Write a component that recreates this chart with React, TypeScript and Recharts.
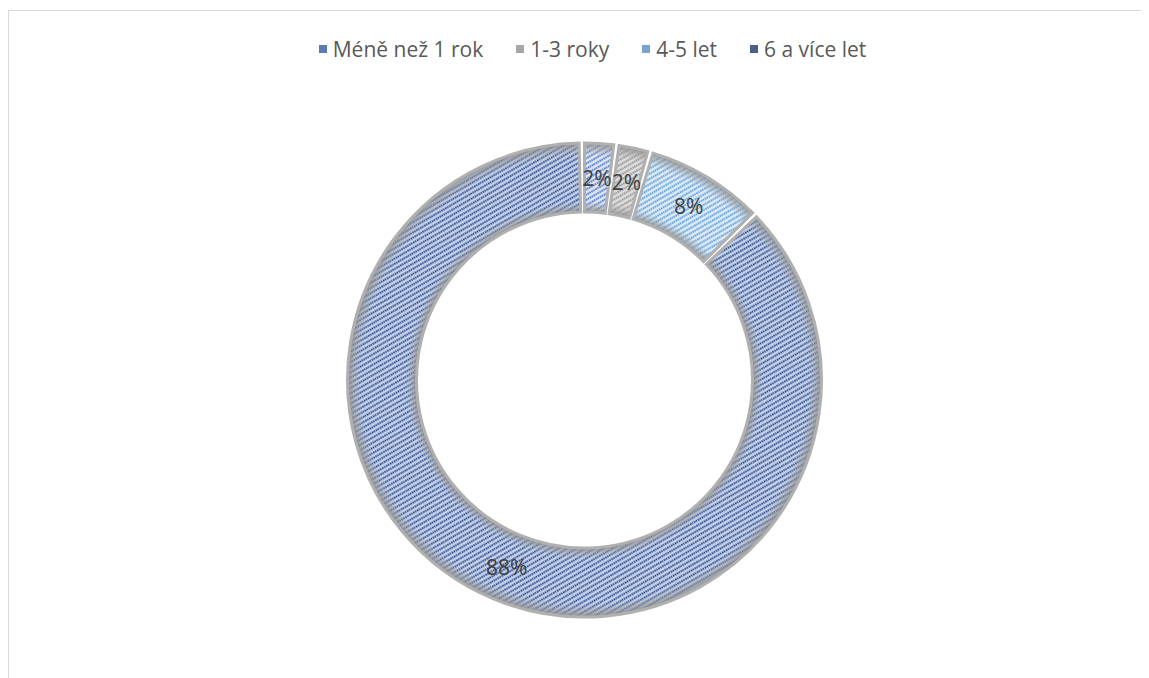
import { Cell, Pie, PieChart } from "recharts";

// share of respondents by length of practice
const CATEGORIES = ["Méně než 1 rok", "1-3 roky", "4-5 let", "6 a více let"];
const SHARES = [2, 2, 8, 88];

const LEGEND_COLORS = ["#5b7bb3", "#a6a6a6", "#7ba3cf", "#4a5e88"];
const PATTERN_BG = ["#e0e7f5", "#dedede", "#deecf9", "#c4d2ed"];
const PATTERN_LINE = ["#3a67bf", "#8a8a8a", "#4a91d4", "#1c3a7a"];

const data = CATEGORIES.map((name, i) => ({ name, value: SHARES[i] }));

const RADIAN = Math.PI / 180;
const FONT = "'Open Sans', Lato, sans-serif";

const CX = 575.5;
const CY = 369;
const INNER = 168;
const OUTER = 237;
const PAD = 1.3;

function renderLabel(props: any) {
  const { cx, cy, midAngle, innerRadius, outerRadius, value } = props;
  const r = (innerRadius + outerRadius) / 2;
  const x = cx + r * Math.cos(-midAngle * RADIAN);
  const y = cy + r * Math.sin(-midAngle * RADIAN);
  return (
    <text
      x={x}
      y={y}
      textAnchor="middle"
      dominantBaseline="central"
      fill="#404040"
      fontSize={21}
      fontFamily={FONT}
    >
      {`${value}%`}
    </text>
  );
}

function ChartLegend() {
  return (
    <div
      style={{
        position: "absolute",
        top: 23,
        left: 0,
        width: "100%",
        display: "flex",
        justifyContent: "center",
        gap: 33,
        fontFamily: FONT,
        fontSize: 21,
        lineHeight: "30px",
        color: "#595959",
        paddingLeft: 27,
        boxSizing: "border-box",
      }}
    >
      {CATEGORIES.map((name, i) => (
        <span key={name} style={{ display: "flex", alignItems: "center" }}>
          <span
            style={{
              width: 8,
              height: 8,
              background: LEGEND_COLORS[i],
              marginRight: 6,
              display: "inline-block",
            }}
          />
          {name}
        </span>
      ))}
    </div>
  );
}

export default function App() {
  const ringProps = {
    data,
    dataKey: "value",
    nameKey: "name",
    cx: CX,
    cy: CY,
    innerRadius: INNER,
    outerRadius: OUTER,
    startAngle: 90,
    endAngle: -270,
    paddingAngle: PAD,
    isAnimationActive: false,
  };
  const innerStop = INNER / OUTER;

  return (
    <div
      style={{
        position: "relative",
        marginTop: 2,
        width: 1140,
        height: 667,
        borderTop: "1px solid #d9d9d9",
        borderLeft: "1px solid #d9d9d9",
        background: "#fff",
        overflow: "hidden",
      }}
    >
      <ChartLegend />
      <PieChart width={1140} height={667} margin={{ top: 0, right: 0, bottom: 0, left: 0 }}>
        <defs>
          {CATEGORIES.map((name, i) => (
            <pattern
              key={name}
              id={`fill${i}`}
              width={4.5}
              height={4.5}
              patternUnits="userSpaceOnUse"
              patternTransform="rotate(-30)"
            >
              <rect width={4.5} height={4.5} fill={PATTERN_BG[i]} />
              <line
                x1={0}
                y1={2.25}
                x2={4.5}
                y2={2.25}
                stroke={PATTERN_LINE[i]}
                strokeWidth={1.8}
                strokeDasharray="1.5 0.75"
              />
            </pattern>
          ))}
          {/* grey shading that fades in from both rims of the ring */}
          <radialGradient id="rimShade" gradientUnits="userSpaceOnUse" cx={CX} cy={CY} r={OUTER}>
            <stop offset={innerStop} stopColor="#8c8c8c" stopOpacity={0.9} />
            <stop offset={innerStop + 0.018} stopColor="#9a9a9a" stopOpacity={0.55} />
            <stop offset={innerStop + 0.045} stopColor="#a6a6a6" stopOpacity={0} />
            <stop offset={0.945} stopColor="#a6a6a6" stopOpacity={0} />
            <stop offset={0.978} stopColor="#9a9a9a" stopOpacity={0.55} />
            <stop offset={1} stopColor="#8c8c8c" stopOpacity={0.9} />
          </radialGradient>
        </defs>
        <Pie {...ringProps} stroke="none" labelLine={false}>
          {data.map((d, i) => (
            <Cell key={d.name} fill={`url(#fill${i})`} />
          ))}
        </Pie>
        <Pie
          {...ringProps}
          fill="url(#rimShade)"
          stroke="#b0b0b0"
          strokeWidth={3}
          label={renderLabel}
          labelLine={false}
        />
      </PieChart>
    </div>
  );
}
